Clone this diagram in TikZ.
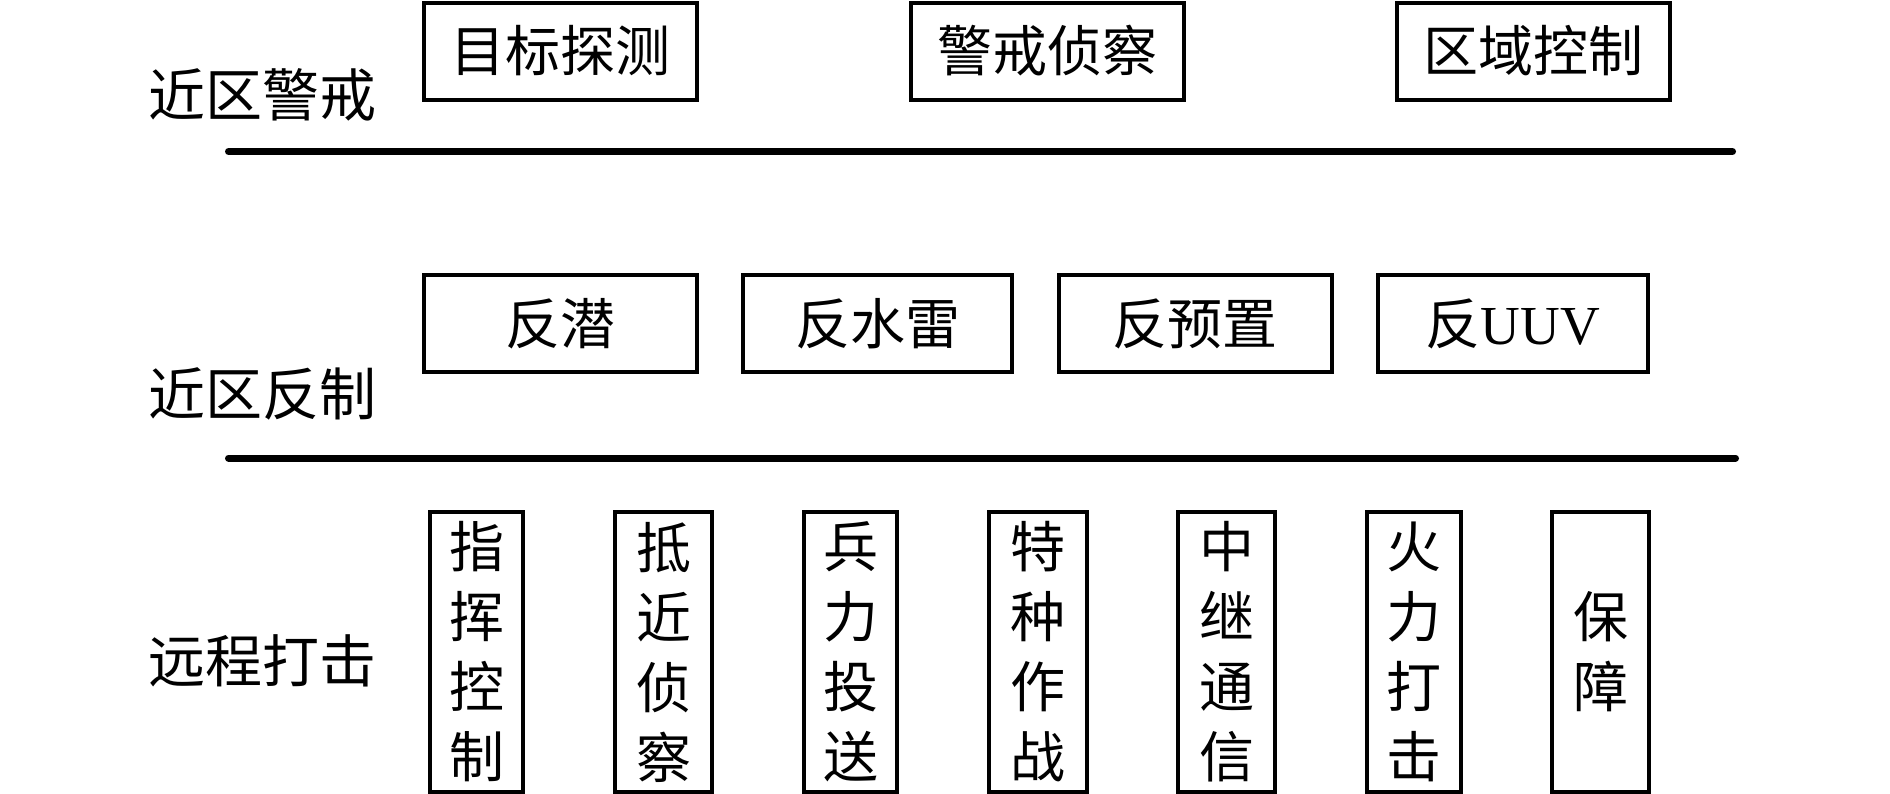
\documentclass[tikz,border=0pt]{standalone}
\usepackage{fontspec}
\setmainfont{Liberation Serif}
\newfontfamily\cjk{Noto Sans CJK SC}
\begin{document}
\begin{tikzpicture}[x=0.5pt,y=-0.5pt,
  hbox/.style={draw,line width=2pt,inner sep=0pt,minimum height=48.5pt,
    font=\fontsize{27.5}{33}\selectfont\cjk},
  vbox/.style={draw,line width=2pt,inner sep=0pt,minimum height=140pt,
    align=center,font=\fontsize{27.5}{35}\selectfont\cjk},
  lbl/.style={anchor=west,inner sep=0pt,font=\fontsize{28.5}{34}\selectfont\cjk},
  sep/.style={line width=3.5pt,line cap=round}]
\useasboundingbox (0,0) rectangle (1890,793);
% labels
\node[lbl] (l1) at (148,95) {近区警戒};
\node[lbl] (l2) at (148,394) {近区反制};
\node[lbl] (l3) at (148,661) {远程打击};
% row 1
\node[hbox,minimum width=136.5pt] (a1) at (560.5,51) {目标探测};
\node[hbox,minimum width=136.5pt] (a2) at (1047,51) {警戒侦察};
\node[hbox,minimum width=136.5pt] (a3) at (1533,51) {区域控制};
% separator 1
\coordinate (s1a) at (228.5,151.5);
\coordinate (s1b) at (1732.5,151.5);
\draw[sep] (s1a) -- (s1b);
% row 2
\node[hbox,minimum width=136.5pt] (b1) at (560.5,323.5) {反潜};
\node[hbox,minimum width=134.5pt] (b2) at (877.5,323.5) {反水雷};
\node[hbox,minimum width=136.5pt] (b3) at (1195,323.5) {反预置};
\node[hbox,minimum width=135pt] (b4) at (1513,323.5) {反{\rmfamily UUV}};
% separator 2
\coordinate (s2a) at (228.5,458);
\coordinate (s2b) at (1735.5,458);
\draw[sep] (s2a) -- (s2b);
% row 3
\node[vbox,minimum width=46.5pt] (c1) at (476.5,652) {指\\挥\\控\\制};
\node[vbox,minimum width=48.5pt] (c2) at (663.5,652) {抵\\近\\侦\\察};
\node[vbox,minimum width=46.5pt] (c3) at (850.5,652) {兵\\力\\投\\送};
\node[vbox,minimum width=49pt] (c4) at (1038,652) {特\\种\\作\\战};
\node[vbox,minimum width=48.5pt] (c5) at (1226.5,652) {中\\继\\通\\信};
\node[vbox,minimum width=47pt] (c6) at (1414,652) {火\\力\\打\\击};
\node[vbox,minimum width=48.5pt] (c7) at (1600.5,652) {保\\障};
\end{tikzpicture}
\end{document}
